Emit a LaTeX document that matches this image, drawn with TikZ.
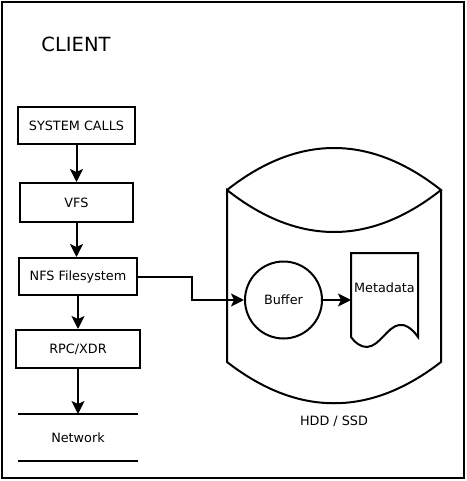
\documentclass[tikz,border=0pt]{standalone}
\usepackage{fontspec}
\setmainfont{DejaVu Sans}
\usetikzlibrary{arrows.meta, positioning, calc}

\begin{document}
\begin{tikzpicture}[x=1pt, y=-1pt, line width=2pt,
    box/.style={draw, minimum height=37pt, inner sep=0pt, font=\fontsize{12.8}{15}\selectfont},
    lbl/.style={inner sep=0pt, font=\fontsize{12.8}{15}\selectfont},
    arr/.style={-{Stealth[length=13pt, width=13pt, inset=3pt]}}]
  \useasboundingbox (0,0) rectangle (466,481);
  \draw (2,2) rectangle (464,478);
  \node[lbl, font=\fontsize{19.5}{22}\selectfont] (client) at (76,44) {CLIENT};

  \node[box, minimum width=117pt] (syscalls) at (76.5,125.5) {SYSTEM CALLS};
  \node[box, minimum width=113pt, minimum height=39pt] (vfs) at (76.5,202.5) {VFS};
  \node[box, minimum width=118pt] (nfs) at (78,276.5) {NFS Filesystem};
  \node[box, minimum width=124pt, minimum height=38pt] (rpc) at (78,349) {RPC/XDR};
  \node[lbl, minimum width=118pt, minimum height=45pt] (net) at (78,437.5) {Network};
  \draw (net.north west) -- (net.north east);
  \draw (net.south west) -- (net.south east);

  \draw[arr] (syscalls.south) -- (syscalls.south |- vfs.north);
  \draw[arr] (vfs.south) -- (vfs.south |- nfs.north);
  \draw[arr] (nfs.south) -- (nfs.south |- rpc.north);
  \draw[arr] (rpc.south) -- (rpc.south |- net.north);

  \coordinate (cyltl) at (227,190);
  \coordinate (cyltr) at (441,190);
  \coordinate (cylbl) at (227,362);
  \coordinate (cylbr) at (441,362);
  \draw (cyltl) .. controls (298,134) and (370,134) .. (cyltr)
        .. controls (370,246) and (298,246) .. (cyltl) -- (cylbl)
        .. controls (298,417) and (370,417) .. (cylbr) -- (cyltr);
  \node[lbl] (disk) at (334,421) {HDD / SSD};

  \node[draw, circle, minimum size=77pt, inner sep=0pt, font=\fontsize{12.8}{15}\selectfont] (buffer) at (283.5,300) {Buffer};
  \coordinate (doctl) at (351,253);
  \draw (doctl) -- (418,253) -- (418,337)
        .. controls (411,327) and (404,324) .. (399,325)
        .. controls (387,327) and (380,346) .. (367,347)
        .. controls (361,347) and (355,343) .. (351,337) -- cycle;
  \node[lbl] (meta) at (384.5,288) {Metadata};

  \draw[arr] (nfs.east) -- ++(54,0) |- (buffer.west);
  \draw[arr] (buffer.east) -- (buffer.east -| doctl);
\end{tikzpicture}
\end{document}
